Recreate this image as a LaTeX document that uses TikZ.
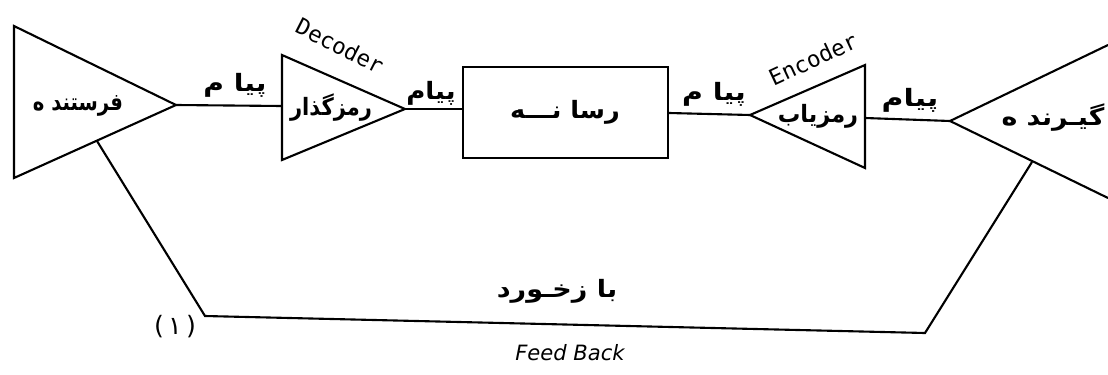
\documentclass[tikz,border=0pt]{standalone}
\usepackage{graphicx}
\usepackage{fontspec}
\TeXXeTstate=1
\newfontfamily\fa[Script=Arabic]{DejaVu Sans}
\newfontfamily\enmono{DejaVu Sans Mono}
\newfontfamily\ensans{DejaVu Sans}
\tikzset{
  ln/.style={line width=1.5pt, line join=miter},
  fatext/.style={font=\fa\bfseries\fontsize{17}{19}\selectfont, inner sep=0pt},
  enlbl/.style={font=\enmono\fontsize{16}{18}\selectfont, inner sep=0pt},
  boxnode/.style={draw, line width=1.5pt, minimum width=205*0.025cm, minimum height=91*0.025cm, inner sep=0pt},
}
\begin{document}
\begin{tikzpicture}[x=0.025cm,y=-0.025cm]
\useasboundingbox (0,0) rectangle (1108,374);
% sender
\coordinate (s1) at (14,26);
\coordinate (s2) at (14,178);
\coordinate (sA) at (176,105);
\coordinate (sF) at (97,141);
% decoder
\coordinate (d1) at (282,55);
\coordinate (d2) at (282,160);
\coordinate (dA) at (405,109);
\coordinate (dL) at (282,106);
% medium
\node[boxnode] (box) at (565.5,112.5) {};
% encoder
\coordinate (eA) at (750,115);
\coordinate (e1) at (865,65);
\coordinate (e2) at (865,168);
\coordinate (eR) at (865,118);
% receiver
\coordinate (rA) at (950,121);
\coordinate (r1) at (1108,45);
\coordinate (r2) at (1108,198);
\coordinate (rF) at (1032,162);
% feedback corners
\coordinate (fb1) at (205,316);
\coordinate (fb2) at (925,333);

\draw[ln] (sA) -- (s1) -- (s2) -- cycle;
\draw[ln] (dA) -- (d1) -- (d2) -- cycle;
\draw[ln] (eA) -- (e1) -- (e2) -- cycle;
\draw[ln] (r1) -- (rA) -- (r2);

\draw[ln] (sA) -- (dL);
\draw[ln] (dA) -- (box.west |- dA);
\draw[ln] (box.east |- 0,113) -- (eA);
\draw[ln] (eR) -- (rA);
\draw[ln] (sF) -- (fb1) -- (fb2) -- (rF);

% texts
\node[fatext] (tsender) at (78,106) {\scalebox{0.82}[1]{\beginR فرستند ه\endR}};
\node[fatext] (tdec) at (331,108) {\scalebox{0.88}[1]{\beginR رمزگذار\endR}};
\node[fatext] (tbox) at (565,112) {\scalebox{1.07}[1]{\beginR رسا نـــه\endR}};
\node[fatext] (tenc) at (818,116) {\scalebox{0.94}[1]{\beginR رمزیاب\endR}};
\node[fatext] (trec) at (1053,118) {\scalebox{1.12}[1]{\beginR گیـرند ه\endR}};
\node[fatext] (m1) at (235,85) {\scalebox{1.18}[1]{\beginR پیا م\endR}};
\node[fatext] (m2) at (431,93) {\scalebox{1.09}[1]{\beginR پیام\endR}};
\node[fatext] (m3) at (714,94) {\scalebox{1.19}[1]{\beginR پیا م\endR}};
\node[fatext] (m4) at (910,100) {\scalebox{1.25}[1]{\beginR پیام\endR}};
\node[fatext] (tfb) at (557,291) {\scalebox{1.13}[1]{\beginR با زخـورد\endR}};
\node[font=\ensans\fontsize{18}{20}\selectfont, inner sep=0pt] (tone) at (175,327) {(\,۱\,)};
\node[font=\ensans\itshape\fontsize{15}{17}\selectfont, inner sep=0pt] (tfeed) at (570,353) {Feed Back};
\node[enlbl, rotate=-27] (tdecoder) at (340,46) {Decoder};
\node[enlbl, rotate=25] (tencoder) at (813,59) {Encoder};
\end{tikzpicture}
\end{document}
